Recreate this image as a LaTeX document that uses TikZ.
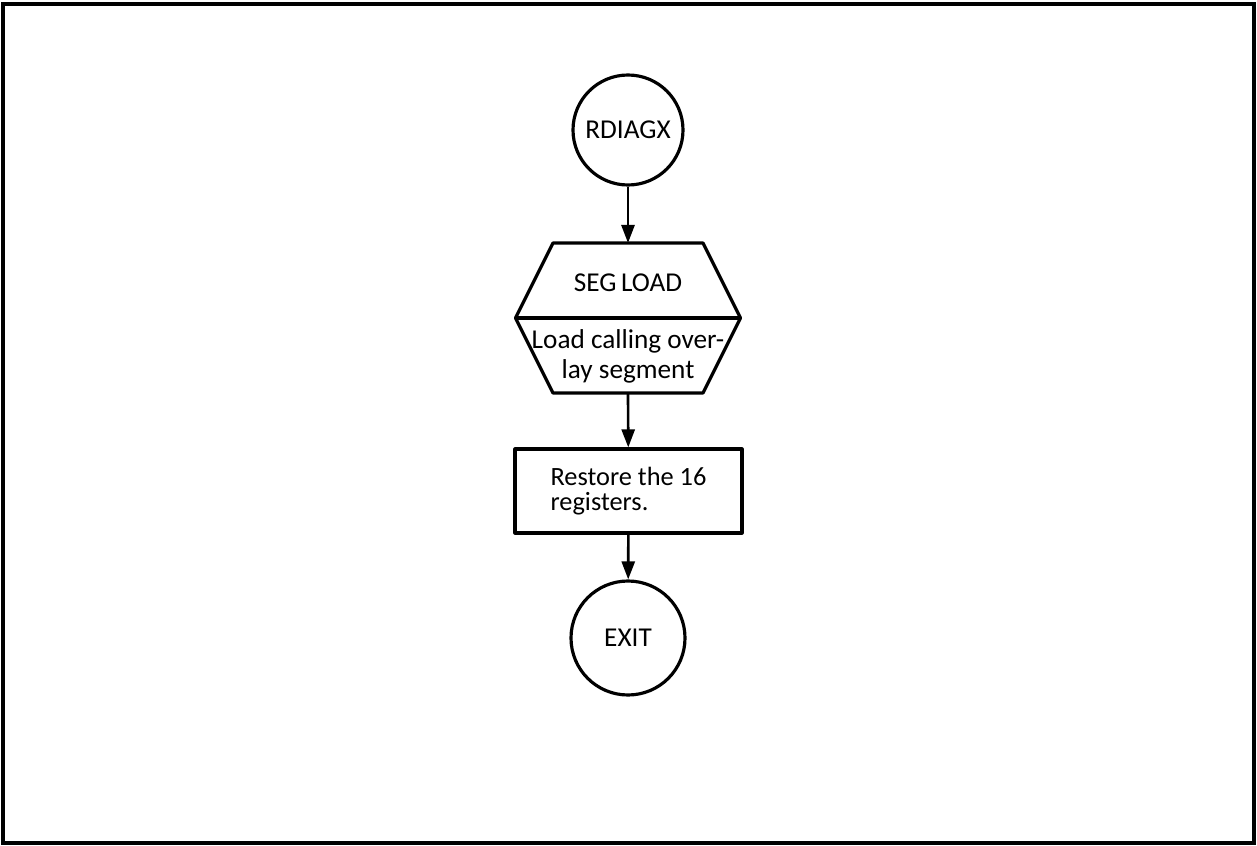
\documentclass[tikz,border=0pt]{standalone}
\usepackage{fontspec}
\setmainfont{Carlito}
\usetikzlibrary{arrows.meta,positioning}

\begin{document}
\begin{tikzpicture}[x=1cm, y=1cm]

\def\cx{12.56}
\def\lw{1.8pt}

% ---------- style ----------
\tikzset{
  linia/.style={line width=\lw, line join=round},
  terminal/.style={
    linia,
    draw,
    circle,
    minimum size=2.2cm,
    inner sep=0pt,
    font=\fontsize{15.5}{17}\selectfont
  },
  blok/.style={
    linia,
    draw,
    rectangle,
    minimum width=4.54cm,
    minimum height=1.68cm,
    align=left,
    font=\fontsize{15}{14.5}\selectfont
  },
  tekst/.style={
    inner sep=0pt,
    align=center,
    font=\fontsize{15.5}{17}\selectfont
  },
  strzalka/.style={
    -{Triangle[length=0.36cm, width=0.26cm]},
    line width=1.5pt
  }
}

% ---------- ramka ----------
\useasboundingbox (0,0) rectangle (25.14,-16.92);
\draw[line width=1.9pt] (0.06,-0.08) rectangle (25.08,-16.86);

% ---------- szesciokat SEGLOAD ----------
\coordinate (S-1) at (11.06,-4.86);
\coordinate (S-2) at (14.06,-4.86);
\coordinate (S-3) at (14.81,-6.36);
\coordinate (S-4) at (14.06,-7.86);
\coordinate (S-5) at (11.06,-7.86);
\coordinate (S-6) at (10.31,-6.36);
\coordinate (S-top) at (\cx,-4.86);
\coordinate (S-bot) at (\cx,-7.86);

\draw[linia] (S-1) -- (S-2) -- (S-3) -- (S-4) -- (S-5) -- (S-6) -- cycle;
\draw[linia] (S-6) -- (S-3);

% ---------- wezly ----------
\node[terminal] (rdiagx) at (\cx,-2.6) {RDIAGX};
\node[tekst] (seghead) at (\cx,-5.66) {SEG\,LOAD};
\node[tekst] (segbody) at (\cx,-7.12) {Load calling over-\\lay segment};
\node[blok] (restore) at (12.57,-9.82) {Restore the 16\\registers.};
\node[terminal, minimum size=2.28cm] (exit) at (\cx,-12.76) {EXIT};

% ---------- strzalki ----------
\draw[strzalka] (rdiagx) -- (S-top);
\draw[strzalka] (S-bot) -- (restore);
\draw[strzalka] (restore) -- (exit);

\end{tikzpicture}
\end{document}
